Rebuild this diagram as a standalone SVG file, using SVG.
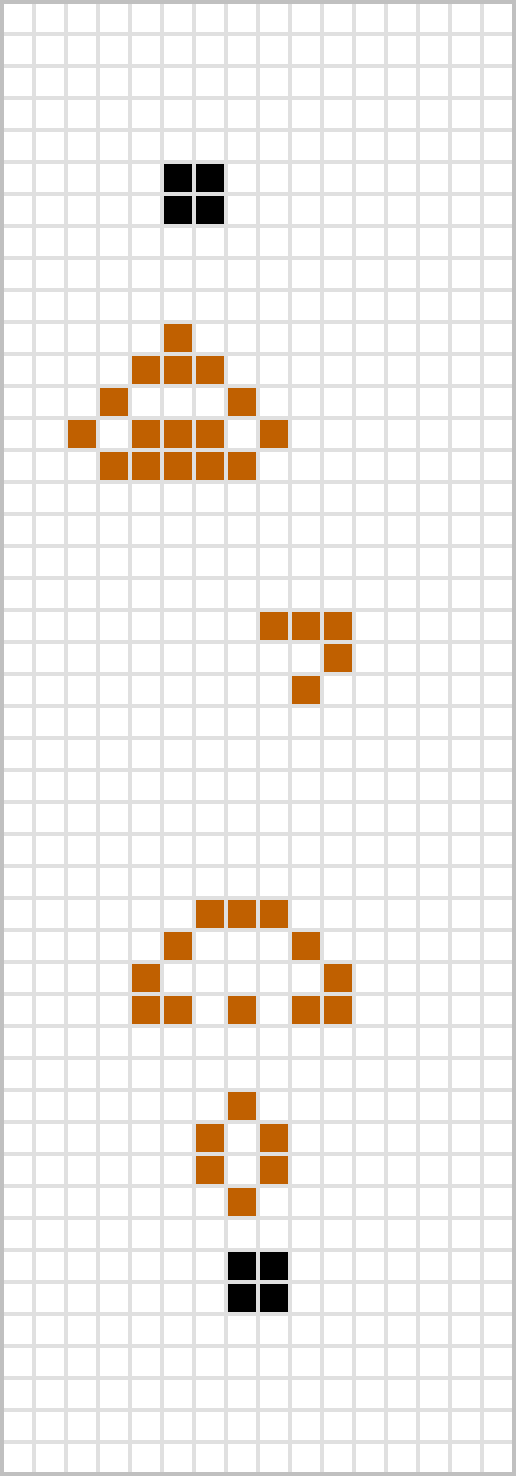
<svg xmlns="http://www.w3.org/2000/svg" width="516" height="1476" viewBox="0 0 516 1476">
<style>
.g{stroke:#e0e0e0;stroke-width:4;fill:none}
.o{fill:#c06000}
.k{fill:#000}
</style>
<defs>
<pattern id="grid" x="0" y="0" width="32" height="32" patternUnits="userSpaceOnUse">
<rect x="0" y="0" width="32" height="32" fill="#e0e0e0"/>
<rect x="4" y="4" width="28" height="28" fill="#fff"/>
</pattern>
<rect id="c" width="28" height="28"/>
</defs>
<rect x="0" y="0" width="516" height="1476" fill="url(#grid)"/>
<rect x="2" y="2" width="512" height="1472" fill="none" stroke="#c0c0c0" stroke-width="4"/>
<g id="block-top" class="k">
<use href="#c" x="164" y="164"/><use href="#c" x="196" y="164"/>
<use href="#c" x="164" y="196"/><use href="#c" x="196" y="196"/>
</g>
<g id="shape1" class="o">
<use href="#c" x="164" y="324"/>
<use href="#c" x="132" y="356"/><use href="#c" x="164" y="356"/><use href="#c" x="196" y="356"/>
<use href="#c" x="100" y="388"/><use href="#c" x="228" y="388"/>
<use href="#c" x="68" y="420"/><use href="#c" x="132" y="420"/><use href="#c" x="164" y="420"/><use href="#c" x="196" y="420"/><use href="#c" x="260" y="420"/>
<use href="#c" x="100" y="452"/><use href="#c" x="132" y="452"/><use href="#c" x="164" y="452"/><use href="#c" x="196" y="452"/><use href="#c" x="228" y="452"/>
</g>
<g id="shape2" class="o">
<use href="#c" x="260" y="612"/><use href="#c" x="292" y="612"/><use href="#c" x="324" y="612"/>
<use href="#c" x="324" y="644"/>
<use href="#c" x="292" y="676"/>
</g>
<g id="shape3" class="o">
<use href="#c" x="196" y="900"/><use href="#c" x="228" y="900"/><use href="#c" x="260" y="900"/>
<use href="#c" x="164" y="932"/><use href="#c" x="292" y="932"/>
<use href="#c" x="132" y="964"/><use href="#c" x="324" y="964"/>
<use href="#c" x="132" y="996"/><use href="#c" x="164" y="996"/><use href="#c" x="228" y="996"/><use href="#c" x="292" y="996"/><use href="#c" x="324" y="996"/>
</g>
<g id="shape4" class="o">
<use href="#c" x="228" y="1092"/>
<use href="#c" x="196" y="1124"/><use href="#c" x="260" y="1124"/>
<use href="#c" x="196" y="1156"/><use href="#c" x="260" y="1156"/>
<use href="#c" x="228" y="1188"/>
</g>
<g id="block-bottom" class="k">
<use href="#c" x="228" y="1252"/><use href="#c" x="260" y="1252"/>
<use href="#c" x="228" y="1284"/><use href="#c" x="260" y="1284"/>
</g>
<g id="connectors"/>
</svg>
